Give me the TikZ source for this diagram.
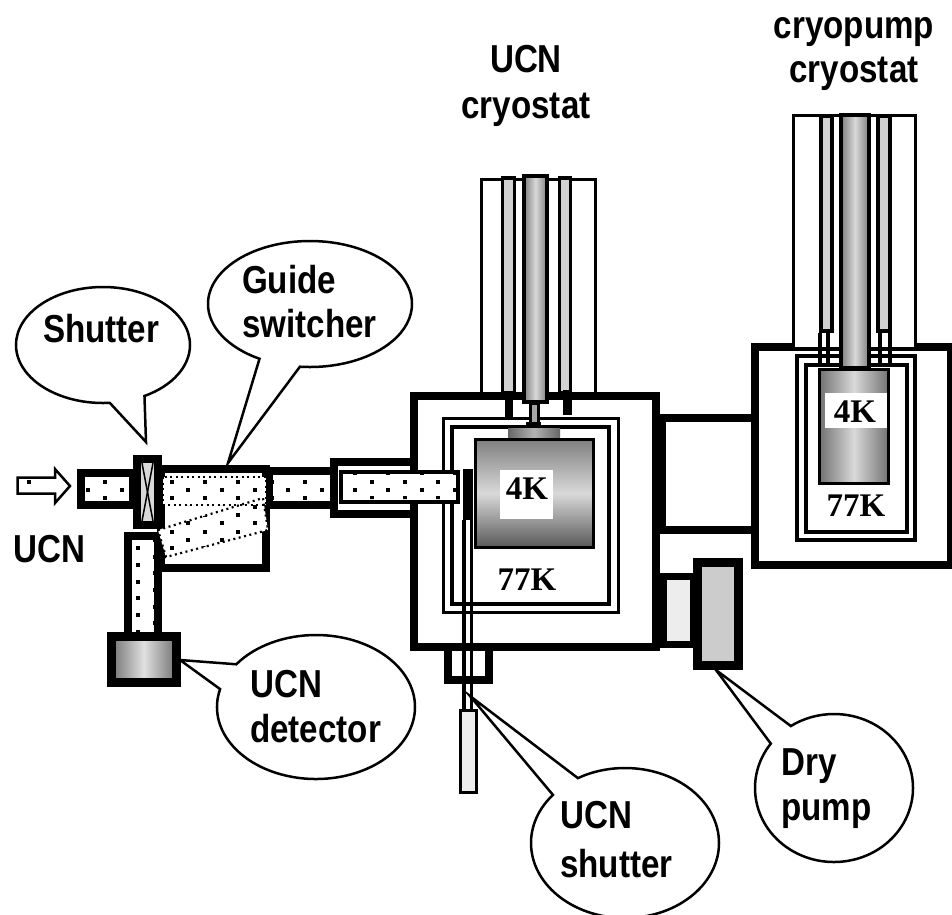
\documentclass[tikz,border=0pt]{standalone}
\usepackage{fontspec}
\usepackage{tikz}
\usetikzlibrary{calc}
\usetikzlibrary{shapes.callouts}
\newfontfamily\labelfont[FakeStretch=0.85]{Liberation Sans Bold}
\newfontfamily\tempfont{Liberation Serif Bold}
\tikzset{
  wall/.style={draw=black,line width=8pt,fill=white,miter limit=10},
  thinbox/.style={draw=black,line width=3pt,fill=white},
  tube/.style={draw=black,line width=4pt,left color=black!50,right color=black!50,middle color=black!15},
  sidetube/.style={draw=black,line width=3.5pt,fill=black!18},
  cold/.style={draw=black,line width=3pt},
  guidedots/.style={draw=black,line width=2.2pt,dash pattern=on 2pt off 3.5pt},
  bubble/.style={ellipse callout,draw=black,line width=2.5pt,fill=white,inner sep=0pt},
  callouttext/.style={font=\fontsize{39}{46}\labelfont,align=left,anchor=base west,inner sep=0pt},
  title/.style={font=\fontsize{39}{46}\labelfont,anchor=base,inner sep=0pt},
  temp/.style={font=\fontsize{33}{36}\tempfont,inner sep=0pt}
}
\begin{document}
\begin{tikzpicture}[x=1pt,y=-1pt]
  \useasboundingbox (0,0) rectangle (952,914);
  \clip (0,0) rectangle (952,914);

  % UCN cryostat
  \draw[thinbox] (481.5,179) rectangle (595.5,393);
  \draw[sidetube] (502.5,178) rectangle (514.5,393);
  \draw[sidetube] (559.5,178) rectangle (570.5,393);

  % main vacuum box
  \draw[wall] (414,396) rectangle (656,647);
  \draw[thinbox] (443,418) rectangle (618.5,612);
  \draw[thinbox,line width=4pt] (452,427) rectangle (609,604);
  \fill (505,400) rectangle (513,417);
  \fill (563,390) rectangle (572,415);
  \draw[tube] (524,176) rectangle (547,402);
  \draw[cold,fill=black!35] (530,403) rectangle (538,423);
  \fill (526,422) rectangle (541,428);
  \draw[draw=none,left color=black!60,right color=black!60,middle color=black!30] (508,428) rectangle (560,438);
  \draw[cold,top color=black!50,bottom color=black!65,middle color=black!15] (475,439.5) rectangle (593,547);
  \fill[white] (500,470) rectangle (553,519);
  \node[temp] (fourkmain) at (527,489) {4K};
  \node[temp] (seventyseven) at (527,580) {77K};

  % shutter rod
  \draw[line width=3.5pt] (464,520) -- (464,710);
  \draw[line width=3.5pt] (471.5,520) -- (471.5,710);
  \fill (463,469) rectangle (473,520);
  \draw[wall,fill=none] (448,651) -- (448,679.5) -- (488.5,679.5) -- (488.5,651);
  \draw[thinbox,fill=black!7] (460.5,710.5) rectangle (476,792);

  % cryopump box
  \draw[wall] (755,347) rectangle (951,565);
  \draw[thinbox,line width=4pt] (797,356) rectangle (915,540);
  \draw[thinbox,line width=4pt] (805.5,364.5) rectangle (907,532);
  \draw[thinbox] (793.5,115) rectangle (915,348.5);
  \draw[sidetube] (821,116) rectangle (832,331);
  \draw[sidetube] (878,116) rectangle (890,331);
  \foreach \wx in {819.5,828,880,889.5} {
    \draw[line width=4pt] (\wx,333) -- (\wx,363);
  }
  \draw[tube] (841,115) rectangle (869,368);
  \draw[cold,left color=black!55,right color=black!55,middle color=black!15] (819.5,369.5) rectangle (888.5,483.5);
  \fill[white] (825,393) rectangle (887,428);
  \node[temp] (fourkpump) at (855,412) {4K};
  \node[temp] (seventysevenpump) at (856,506) {77K};

  % pumping lines
  \draw[wall,fill=none] (662,418) rectangle (755,529.5);
  \draw[wall,line width=7pt,fill=black!7] (663,576.5) rectangle (693,644.5);
  \draw[wall,line width=9pt,fill=black!20] (697.5,562.5) rectangle (738.5,665);

  % guide
  \draw[wall] (80.5,472.5) rectangle (133,505);
  \draw[wall] (161,468.5) rectangle (266,567.5);
  \draw[wall] (128,536) rectangle (158,640);
  \draw[wall] (137,459) rectangle (158,525);
  \fill[black!15] (141,463) rectangle (154,521);
  \draw[line width=1.5pt] (142,463) -- (153,521);
  \draw[line width=1.5pt] (153,463) -- (142,521);
  \draw[wall] (269,471) rectangle (334,504.5);
  \fill[white] (334,466) rectangle (410,509);
  \draw[wall,fill=none] (414,462) -- (334,462) -- (334,513.5) -- (414,513.5);
  \draw[draw=black,line width=4pt,fill=white] (341,472) rectangle (458,501.5);
  \fill[white] (163,477) rectangle (266,505);
  \fill[white] (158,530) -- (263,498) -- (268,530) -- (166,557) -- cycle;
  \draw[guidedots] (163,477) rectangle (266,505);
  \draw[guidedots] (158,530) -- (263,498) -- (268,530) -- (166,557) -- cycle;
  \begin{scope}
    \clip (85,477) rectangle (128,501)
      (163,477) rectangle (266,505)
      (158,530) -- (263,498) -- (268,530) -- (166,557) -- cycle
      (273,475) rectangle (326,500)
      (344,474) rectangle (457,499)
      (132,540) rectangle (154,633);
    \foreach \k in {-2,...,24} {
      \foreach \n in {-10,...,14} {
        \pgfmathsetmacro{\dotx}{(265+100*\n+50*\k)/3}
        \pgfmathsetmacro{\doty}{380+(330+25*\k)/3}
        \fill (\dotx-2,\doty-2) rectangle (\dotx+2,\doty+2);
      }
    }
  \end{scope}

  % detector
  \draw[wall,line width=9pt,left color=black!55,right color=black!55,middle color=black!12] (111.5,636.5) rectangle (176,682.5);

  % inlet
  \draw[line width=2.5pt,fill=white] (17.5,477.5) -- (55,477.5) -- (55,469) -- (70,486) -- (55,503) -- (55,493.5) -- (17.5,493.5) -- cycle;
  \fill (27,480) rectangle (31,484);
  \node[callouttext] (ucnin) at (13,562) {UCN};

  % callouts
  \node[bubble,minimum width=174pt,minimum height=116pt,callout absolute pointer={(146,442)},callout pointer arc=24] (shutterbubble) at (103,345) {};
  \node[bubble,minimum width=204pt,minimum height=126pt,callout absolute pointer={(228,463)},callout pointer arc=24] (switcherbubble) at (310,304) {};
  \node[bubble,minimum width=198pt,minimum height=144pt,callout absolute pointer={(180,660)},callout pointer arc=22] (detectorbubble) at (316,707) {};
  \node[bubble,minimum width=188pt,minimum height=150pt,callout absolute pointer={(470,696)},callout pointer arc=20] (rodbubble) at (625,843) {};
  \node[bubble,minimum width=158pt,minimum height=148pt,callout absolute pointer={(716,670)},callout pointer arc=20] (pumpbubble) at (834,788) {};

  \node[callouttext] (shutterlabel) at (43,342) {Shutter};
  \node[callouttext] (guidelabel) at (242,293) {Guide};
  \node[callouttext] (switcherlabel) at (242,337) {switcher};
  \node[callouttext] (ucndet) at (250,697) {UCN};
  \node[callouttext] (detectorlabel) at (250,742) {detector};
  \node[callouttext] (ucnrod) at (560,828) {UCN};
  \node[callouttext] (rodlabel) at (560,877) {shutter};
  \node[callouttext] (drylabel) at (781,775) {Dry};
  \node[callouttext] (pumplabel) at (781,820) {pump};

  \node[title] (ucntitle) at (526,72) {UCN};
  \node[title] (cryotitle) at (526,118) {cryostat};
  \node[title] (pumptitle) at (854,38) {cryopump};
  \node[title] (pumpcryotitle) at (854,82) {cryostat};
\end{tikzpicture}
\end{document}
